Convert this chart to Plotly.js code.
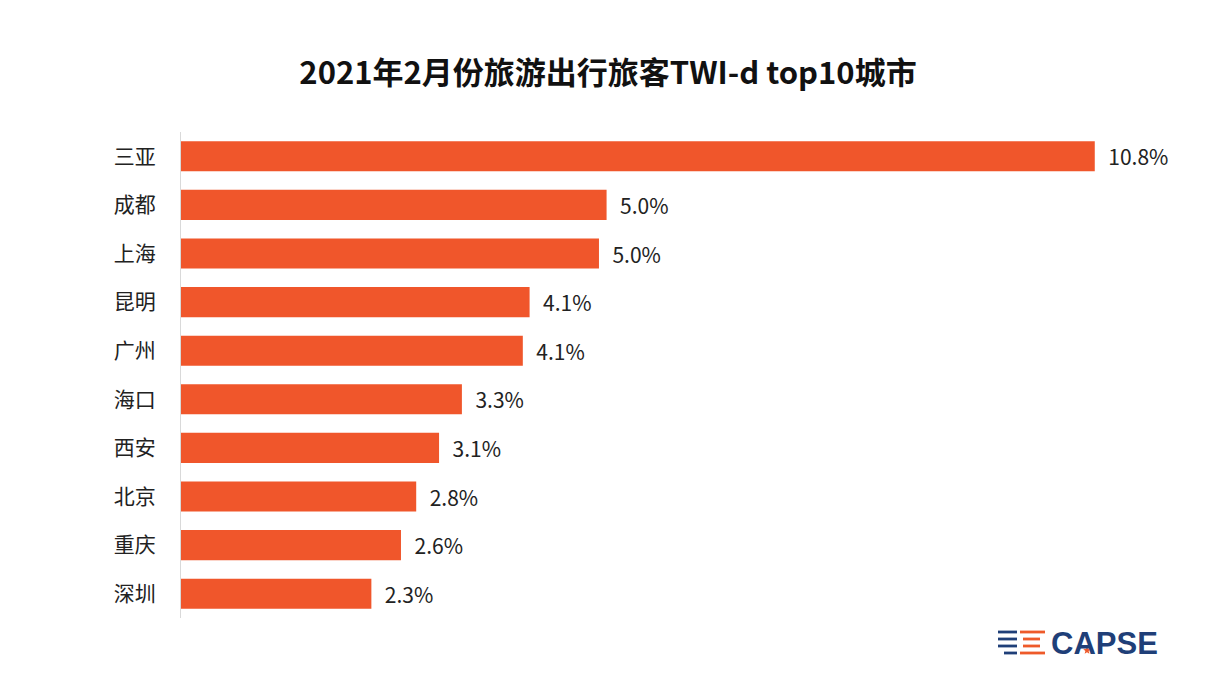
<!DOCTYPE html>
<html>
<head>
<meta charset="utf-8">
<script src="https://cdn.plot.ly/plotly-3.0.1.min.js"></script>
<style>html,body{margin:0;padding:0;background:#fff;}#chart{width:1210px;height:678px;}</style>
</head>
<body>
<div id="chart"></div>
<script>
var cities = ["三亚","成都","上海","昆明","广州","海口","西安","北京","重庆","深圳"];
var twiShare = [10.8, 5.03, 4.94, 4.12, 4.04, 3.32, 3.05, 2.78, 2.60, 2.25];
var valueLabels = ["10.8%","5.0%","5.0%","4.1%","4.1%","3.3%","3.1%","2.8%","2.6%","2.3%"];
var titleText = "2021年2月份旅游出行旅客TWI-d top10城市";
var logoText = "CAPSE";

var W = 1210, H = 678, L = 181, R = 56, T = 132, B = 60;
var pw = W - L - R, ph = H - T - B;
function px(x){ return (x - L) / pw; }
function py(y){ return 1 - (y - T) / ph; }

var font = "Noto Sans CJK SC, Noto Sans, sans-serif";
var shapes = [];
var blue = "#1f3f78", orange = "#ee5a2a";
var rows = [632, 639, 646, 653];
var stripeDefs = [
  [998, 1017, blue, 0], [1020, 1045, orange, 0],
  [998, 1017, blue, 1], [1023, 1040, orange, 1],
  [998, 1017, blue, 2], [1023, 1040, orange, 2],
  [1004, 1017, blue, 3], [1020, 1045, orange, 3]
];
stripeDefs.forEach(function(s){
  shapes.push({type:"rect", xref:"paper", yref:"paper",
    x0:px(s[0]), x1:px(s[1]), y0:py(rows[s[3]]+1.4), y1:py(rows[s[3]]-1.4),
    fillcolor:s[2], line:{width:0}});
});
// small star inside the A of the logo
var cx = 1087, cy = 650.5, ro = 4, ri = 1.7, pts = [];
for (var i = 0; i < 10; i++) {
  var r = (i % 2 === 0) ? ro : ri;
  var a = -Math.PI / 2 + i * Math.PI / 5;
  pts.push(px(cx + r * Math.cos(a)).toFixed(5) + "," + py(cy + r * Math.sin(a)).toFixed(5));
}
shapes.push({type:"path", xref:"paper", yref:"paper", path:"M" + pts.join("L") + "Z",
  fillcolor: orange, line:{width:0}});

var data = [{
  type: "bar",
  orientation: "h",
  y: cities,
  x: twiShare,
  marker: {color: "#f0562b"},
  text: valueLabels.map(function(s){ return "\u2002" + s; }),
  textposition: "outside",
  cliponaxis: false,
  textfont: {family: font, size: 21, color: "#222"},
  hoverinfo: "none"
}];

var layout = {
  width: W, height: H,
  margin: {l: L, r: R, t: T, b: B},
  paper_bgcolor: "#fff", plot_bgcolor: "#fff",
  showlegend: false,
  bargap: 0.38,
  title: {text: "<b>" + titleText + "</b>", x: 608 / W, xref: "container", xanchor: "center",
          y: 1 - 73/678, yref: "container", yanchor: "middle",
          font: {family: font, size: 31, color: "#111"}},
  xaxis: {range: [0, 11.5], visible: false, fixedrange: true},
  yaxis: {autorange: "reversed", showline: true, linecolor: "#d9d9d9", linewidth: 1,
          showgrid: false, zeroline: false, ticks: "", ticklabelstandoff: 20,
          tickfont: {family: font, size: 21, color: "#222"}},
  shapes: shapes,
  annotations: [
    {text: "<b>" + logoText + "</b>", xref: "paper", yref: "paper",
     x: px(1049), y: py(643), xanchor: "left", yanchor: "middle", showarrow: false,
     font: {family: "Liberation Sans, Arial, sans-serif", size: 31, color: blue}}
  ]
};

Plotly.newPlot("chart", data, layout, {displayModeBar: false, staticPlot: true});
</script>
</body>
</html>
